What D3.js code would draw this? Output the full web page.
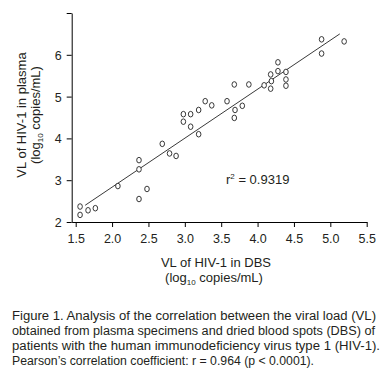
<!DOCTYPE html>
<html>
<head>
<meta charset="utf-8">
<script src="https://cdn.jsdelivr.net/npm/d3@7"></script>
<style>
  body { margin: 0; background: #fff; }
  svg text { font-family: "Liberation Sans", Arial, sans-serif; fill: #231f20; }
</style>
</head>
<body>
<svg id="chart" width="387" height="381"></svg>
<script>
// viral load, log10 copies/mL
const dbsVL = [1.56, 1.56, 1.67, 1.77, 2.08, 2.37, 2.48, 2.37, 2.37, 2.69,
  2.79, 2.88, 2.98, 2.98, 3.08, 3.08, 3.19, 3.19, 3.28, 3.37,
  3.58, 3.69, 3.68, 3.79, 3.68, 3.88, 4.09, 4.18, 4.18, 4.19,
  4.28, 4.28, 4.39, 4.39, 4.39, 4.88, 4.88, 5.19];
const plasmaVL = [2.17, 2.37, 2.28, 2.33, 2.86, 2.55, 2.79, 3.26, 3.48, 3.87,
  3.64, 3.58, 4.58, 4.40, 4.58, 4.28, 4.68, 4.10, 4.89, 4.79,
  4.89, 4.68, 4.49, 4.78, 5.29, 5.29, 5.27, 5.19, 5.53, 5.37,
  5.82, 5.61, 5.59, 5.41, 5.26, 6.37, 6.03, 6.32];

// regression line end points
const fitX = [1.63, 5.13];
const fitY = [2.40, 6.50];

const xTicks = [1.5, 2.0, 2.5, 3.0, 3.5, 4.0, 4.5, 5.0, 5.5];
const yTicks = [2, 3, 4, 5, 6, 7];
const yTickLabels = ["2", "3", "4", "5", "6", ""];
const r2Text = "0.9319";

const captionLines = [
  "Figure 1. Analysis of the correlation between the viral load (VL)",
  "obtained from plasma specimens and dried blood spots (DBS) of",
  "patients with the human immunodeficiency virus type 1 (HIV-1).",
  "Pearson\u2019s correlation coefficient: r = 0.964 (p < 0.0001)."
];
const captionWidths = [364, 363, 368, 302];

const svg = d3.select("#chart");

const x = d3.scaleLinear().domain([1.445, 5.5]).range([71.7, 366.7]);
const y = d3.scaleLinear().domain([2, 7]).range([222, 13]);

// axes
const xAxis = svg.append("g")
  .attr("transform", "translate(0,222)")
  .call(d3.axisBottom(x).tickValues(xTicks).tickFormat(d3.format(".1f")).tickSize(5).tickSizeOuter(0));
const yAxis = svg.append("g")
  .attr("transform", "translate(71.7,0)")
  .call(d3.axisLeft(y).tickValues(yTicks).tickFormat((d, i) => yTickLabels[i]).tickSize(5).tickSizeOuter(0));

[xAxis, yAxis].forEach(function(g) {
  g.selectAll("path, line").attr("stroke", "#000").attr("stroke-width", 1);
  g.selectAll("text").attr("font-size", 12.5).style("font-family", "Liberation Sans, Arial, sans-serif").attr("fill", "#231f20");
});
xAxis.selectAll("text").attr("dy", null).attr("y", 20.5);
yAxis.selectAll("text").attr("x", -10).attr("dy", "0.36em");

// fit line
svg.append("line")
  .attr("x1", x(fitX[0])).attr("y1", y(fitY[0]))
  .attr("x2", x(fitX[1])).attr("y2", y(fitY[1]))
  .attr("stroke", "#222").attr("stroke-width", 0.9);

// points
svg.append("g").selectAll("ellipse")
  .data(dbsVL)
  .join("ellipse")
  .attr("cx", d => x(d))
  .attr("cy", (d, i) => y(plasmaVL[i]))
  .attr("rx", 2.3).attr("ry", 2.8)
  .attr("fill", "#fff")
  .attr("stroke", "#222")
  .attr("stroke-width", 0.9);

// r squared
const r2 = svg.append("text").attr("x", 226).attr("y", 184).attr("font-size", 13);
r2.append("tspan").text("r");
r2.append("tspan").attr("dy", -5).attr("font-size", 8).text("2");
r2.append("tspan").attr("dy", 5).text(" = " + r2Text);

// axis titles
function logUnits(t) {
  t.append("tspan").text("(log");
  t.append("tspan").attr("dy", 3).attr("font-size", 8).text("10");
  t.append("tspan").attr("dy", -3).text(" copies/mL)");
}

svg.append("text").attr("x", 216).attr("y", 267).attr("text-anchor", "middle")
  .attr("font-size", 13).text("VL of HIV-1 in DBS");
logUnits(svg.append("text").attr("x", 214).attr("y", 282).attr("text-anchor", "middle").attr("font-size", 13));

const yTitle = svg.append("g").attr("transform", "translate(0,115) rotate(-90)");
yTitle.append("text").attr("x", 0).attr("y", 26).attr("text-anchor", "middle")
  .attr("font-size", 13).text("VL of HIV-1 in plasma");
logUnits(yTitle.append("text").attr("x", 0).attr("y", 40).attr("text-anchor", "middle").attr("font-size", 13));

// caption
svg.append("g").selectAll("text")
  .data(captionLines)
  .join("text")
  .attr("x", 12)
  .attr("y", (d, i) => 319.5 + i * 15.3)
  .attr("font-size", 12.5)
  .attr("textLength", (d, i) => captionWidths[i])
  .attr("lengthAdjust", "spacingAndGlyphs")
  .text(d => d);
</script>
</body>
</html>
